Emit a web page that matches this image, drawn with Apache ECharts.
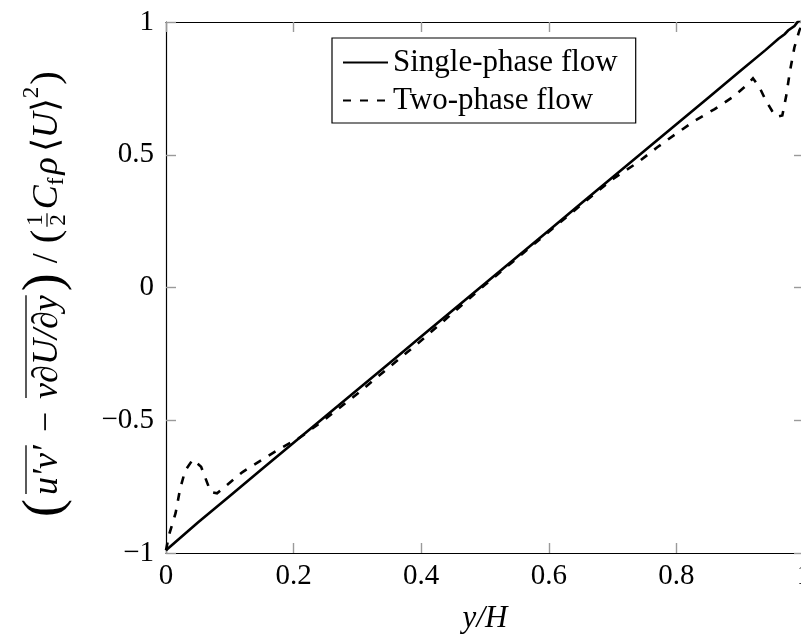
<!DOCTYPE html>
<html>
<head>
<meta charset="utf-8">
<script src="https://cdn.jsdelivr.net/npm/echarts@6/dist/echarts.min.js"></script>
<style>html,body{margin:0;padding:0;background:#fff;}#c{width:801px;height:641px;}</style>
</head>
<body>
<div id="c"></div>
<script>
// ---- data ----
const seriesNames = ['Single-phase flow', 'Two-phase flow'];
const xSingle = [0, 0.05, 0.1, 0.15, 0.2, 0.25, 0.3, 0.35, 0.4, 0.45, 0.5, 0.55, 0.6, 0.65, 0.7, 0.75, 0.8, 0.85, 0.9, 0.94, 0.96, 0.97, 0.975, 0.985, 0.99, 1.0];
const ySingle = [-0.99, -0.885, -0.785, -0.685, -0.585, -0.485, -0.385, -0.285, -0.185, -0.085, 0.015, 0.115, 0.215, 0.315, 0.415, 0.515, 0.615, 0.715, 0.815, 0.895, 0.937, 0.955, 0.968, 0.985, 1.0, 1.02];
const xTwo = [0, 0.005, 0.015, 0.022, 0.03, 0.042, 0.055, 0.07, 0.08, 0.095, 0.12, 0.15, 0.18, 0.21, 0.25, 0.3, 0.35, 0.4, 0.45, 0.5, 0.55, 0.6, 0.65, 0.7, 0.74, 0.77, 0.8, 0.83, 0.86, 0.89, 0.91, 0.92, 0.93, 0.94, 0.95, 0.957, 0.966, 0.972, 0.978, 0.985, 0.993, 1.0];
const yTwo = [-0.99, -0.93, -0.85, -0.76, -0.69, -0.648, -0.675, -0.77, -0.775, -0.745, -0.695, -0.65, -0.605, -0.565, -0.495, -0.40, -0.30, -0.20, -0.095, 0.01, 0.11, 0.21, 0.31, 0.408, 0.472, 0.528, 0.58, 0.63, 0.672, 0.72, 0.762, 0.788, 0.755, 0.705, 0.665, 0.643, 0.648, 0.72, 0.815, 0.905, 0.97, 1.0];
const xTickValues = [0, 0.2, 0.4, 0.6, 0.8, 1];
const xTickLabels = ['0', '0.2', '0.4', '0.6', '0.8', '1'];
const yTickValues = [-1, -0.5, 0, 0.5, 1];
const yTickLabels = ['\u22121', '\u22120.5', '0', '0.5', '1'];
const xAxisTitle = 'y/H';

function pairs(xs, ys) { return xs.map((x, i) => [x, ys[i]]); }
function lab(vals, labs) {
  return function (v) {
    for (let i = 0; i < vals.length; i++) if (Math.abs(vals[i] - v) < 1e-6) return labs[i];
    return '';
  };
}

const SERIF = "'Liberation Serif', 'Times New Roman', serif";

// ---- y axis title built from measured text pieces ----
const mctx = document.createElement('canvas').getContext('2d');
function tw(t, f) { mctx.font = f; return mctx.measureText(t).width; }
const FS = 36;
const FI = 'italic ' + FS + 'px ' + SERIF;
const FR = FS + 'px ' + SERIF;
const FBIG = '54px ' + SERIF;
const FMID = '41px ' + SERIF;
const FSM = '23px ' + SERIF;
const pieces = [
  { t: '(', f: FBIG, dy: -2 },
  { gap: 4 },
  { t: 'u\u2032v\u2032', f: FI, ol: true },
  { gap: 13 },
  { t: '\u2212', f: FR },
  { gap: 13 },
  { t: '\u03BD\u2202U/\u2202y', f: FI, ol: true },
  { gap: 4 },
  { t: ')', f: FBIG, dy: -2 },
  { gap: 10 },
  { t: '/', f: FR },
  { gap: 10 },
  { t: '(', f: FMID, dy: -1 },
  { gap: 2 },
  { frac: true },
  { gap: 3 },
  { t: 'C', f: FI },
  { t: 'f', f: FSM, dy: 9 },
  { gap: 3 },
  { t: '\u03C1', f: FI },
  { gap: 5 },
  { t: '\u27E8', f: FR },
  { t: 'U', f: FI },
  { t: '\u27E9', f: FR },
  { t: '2', f: FSM, dy: -16 },
  { gap: 2 },
  { t: ')', f: FMID, dy: -1 }
];
let total = 0;
pieces.forEach(p => {
  if (p.gap) p.w = p.gap;
  else if (p.frac) p.w = Math.max(tw('1', FSM), tw('2', FSM)) + 4;
  else p.w = tw(p.t, p.f);
  total += p.w;
});
const titleChildren = [];
let cx = -total / 2;
pieces.forEach(p => {
  if (p.gap) { cx += p.w; return; }
  if (p.frac) {
    const mid = cx + p.w / 2;
    titleChildren.push({ type: 'text', x: mid, y: -12, style: { text: '1', font: FSM, fill: '#000', align: 'center', verticalAlign: 'middle', textAlign: 'center', textVerticalAlign: 'middle' } });
    titleChildren.push({ type: 'text', x: mid, y: 11, style: { text: '2', font: FSM, fill: '#000', align: 'center', verticalAlign: 'middle', textAlign: 'center', textVerticalAlign: 'middle' } });
    titleChildren.push({ type: 'line', shape: { x1: cx + 1, y1: -1, x2: cx + p.w - 1, y2: -1 }, style: { stroke: '#000', lineWidth: 1.2 } });
    cx += p.w;
    return;
  }
  titleChildren.push({ type: 'text', x: cx, y: p.dy || 0, style: { text: p.t, font: p.f, fill: '#000', align: 'left', verticalAlign: 'middle', textAlign: 'left', textVerticalAlign: 'middle' } });
  if (p.ol) {
    titleChildren.push({ type: 'line', shape: { x1: cx + 1, y1: -22, x2: cx + p.w, y2: -22 }, style: { stroke: '#000', lineWidth: 1.3 } });
  }
  cx += p.w;
});

const chart = echarts.init(document.getElementById('c'), null, { renderer: 'canvas' });
const tickStyle = { show: true, inside: true, length: 10, lineStyle: { color: '#9a9a9a', width: 1.4 } };
const axisLineStyle = { show: true, onZero: false, lineStyle: { color: '#000', width: 1.2 } };

chart.setOption({
  animation: false,
  backgroundColor: '#fff',
  grid: { left: 166, top: 22, width: 638, height: 531, containLabel: false, outerBoundsMode: 'none' },
  legend: {
    orient: 'vertical',
    left: 332, top: 38,
    padding: [9, 18, 7, 10],
    itemGap: 7,
    itemWidth: 45, itemHeight: 14, itemTextGap: 9,
    borderColor: '#000', borderWidth: 1.2, borderRadius: 0,
    backgroundColor: '#fff',
    itemStyle: { color: 'rgba(0,0,0,0)', borderColor: 'rgba(0,0,0,0)', borderWidth: 0 },
    textStyle: { fontFamily: SERIF, fontSize: 31, color: '#000', lineHeight: 30 },
    data: seriesNames
  },
  xAxis: [
    {
      type: 'value', min: 0, max: 1, interval: 0.2, position: 'bottom',
      axisLine: axisLineStyle, axisTick: tickStyle, splitLine: { show: false },
      axisLabel: { margin: 9, fontFamily: SERIF, fontSize: 29, color: '#000', formatter: lab(xTickValues, xTickLabels) },
      name: xAxisTitle, nameLocation: 'middle', nameGap: 50,
      nameTextStyle: { fontFamily: SERIF, fontStyle: 'italic', fontSize: 31, color: '#000' }
    },
    {
      type: 'value', min: 0, max: 1, interval: 0.2, position: 'top',
      axisLine: axisLineStyle, axisTick: tickStyle, splitLine: { show: false }, axisLabel: { show: false }
    }
  ],
  yAxis: [
    {
      type: 'value', min: -1, max: 1, interval: 0.5, position: 'left',
      axisLine: axisLineStyle, axisTick: tickStyle, splitLine: { show: false },
      axisLabel: { margin: 12, fontFamily: SERIF, fontSize: 29, color: '#000', formatter: lab(yTickValues, yTickLabels) }
    },
    {
      type: 'value', min: -1, max: 1, interval: 0.5, position: 'right',
      axisLine: axisLineStyle, axisTick: tickStyle, splitLine: { show: false }, axisLabel: { show: false }
    }
  ],
  graphic: [
    { type: 'group', x: 48, y: 294, rotation: Math.PI / 2, children: titleChildren }
  ],
  series: [
    {
      name: seriesNames[0], type: 'line', data: pairs(xSingle, ySingle),
      symbol: 'none', clip: true,
      lineStyle: { color: '#000', width: 2.6, type: 'solid', join: 'miter' },
      itemStyle: { color: '#000' }, z: 3
    },
    {
      name: seriesNames[1], type: 'line', data: pairs(xTwo, yTwo),
      symbol: 'none', clip: true,
      lineStyle: { color: '#000', width: 2.6, type: [8, 9], join: 'miter' },
      itemStyle: { color: '#000' }, z: 2
    }
  ]
});
</script>
</body>
</html>
